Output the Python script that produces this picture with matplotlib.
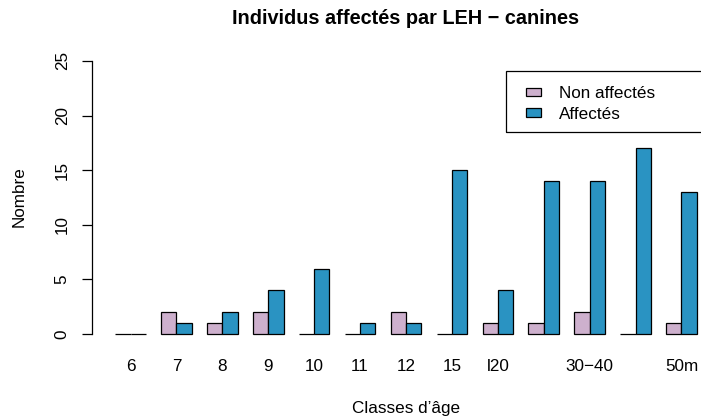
import matplotlib
matplotlib.use("Agg")
import matplotlib.pyplot as plt
from matplotlib.patches import Rectangle, Patch
import numpy as np

plt.rcParams['font.family'] = ['Liberation Sans', 'DejaVu Sans']

# data (two labels are hidden by R's overlap rule)
classes = ["6", "7", "8", "9", "10", "11", "12", "15", "l20", "", "30\u221240", "", "50m"]
non_affectes = [0, 2, 1, 2, 0, 0, 2, 0, 1, 1, 2, 0, 1]
affectes = [0, 1, 2, 4, 6, 1, 1, 15, 4, 14, 14, 17, 13]

col_non = "#CDB0CD"
col_aff = "#2A93C2"

W, H = 701, 419
fig = plt.figure(figsize=(W / 100, H / 100), dpi=100)
fs = 12.3

# plot region in pixels (R layout, right side runs past the image)
left, right, top, bottom = 92, 720, 50, 345
ax = fig.add_axes([left / W, 1 - bottom / H, (right - left) / W, (bottom - top) / H])

n = len(classes)
grp = np.arange(n) * 3
ax.bar(grp + 1.5, non_affectes, width=1, color=col_non, edgecolor="black", linewidth=0.9)
ax.bar(grp + 2.5, affectes, width=1, color=col_aff, edgecolor="black", linewidth=0.9)

ax.set_xlim(-0.52, 40.52)
ax.set_ylim(-1, 26)

for s in ["top", "right", "bottom"]:
    ax.spines[s].set_visible(False)
ax.spines["left"].set_bounds(0, 25)
ax.spines["left"].set_linewidth(0.9)

ax.set_xticks(grp + 2)
ax.set_xticklabels(classes, fontsize=fs)
ax.tick_params(axis="x", length=0, pad=10)

ax.set_yticks([0, 5, 10, 15, 20, 25])
ax.tick_params(axis="y", length=7, width=0.9, pad=9, labelsize=fs)
for t in ax.get_yticklabels():
    t.set_rotation(90)
    t.set_va("center")

fig.text(406 / W, 1 - 18 / H, "Individus affectés par LEH \u2212 canines",
         ha="center", va="center", fontsize=14.3, fontweight="bold")
fig.text(406 / W, 1 - 408 / H, "Classes d\u2019âge", ha="center", va="center", fontsize=fs)
fig.text(19 / W, 1 - 197 / H, "Nombre", ha="center", va="center", rotation=90, fontsize=fs)

# legend box, cropped on the right like the original
fig.patches.append(Rectangle((506 / W, 1 - 132 / H), 230 / W, 61 / H,
                             transform=fig.transFigure, fill=False,
                             edgecolor="black", linewidth=0.9))
handles = [Patch(facecolor=col_non, edgecolor="black", linewidth=0.9, label="Non affectés"),
           Patch(facecolor=col_aff, edgecolor="black", linewidth=0.9, label="Affectés")]
fig.legend(handles=handles, loc="upper left", bbox_to_anchor=(526 / W, 1 - 86 / H),
           frameon=False, fontsize=fs, handlelength=0.85, handleheight=0.4,
           handletextpad=1.1, labelspacing=0.33, borderpad=0, borderaxespad=0)

fig.savefig("out.png", dpi=100)
